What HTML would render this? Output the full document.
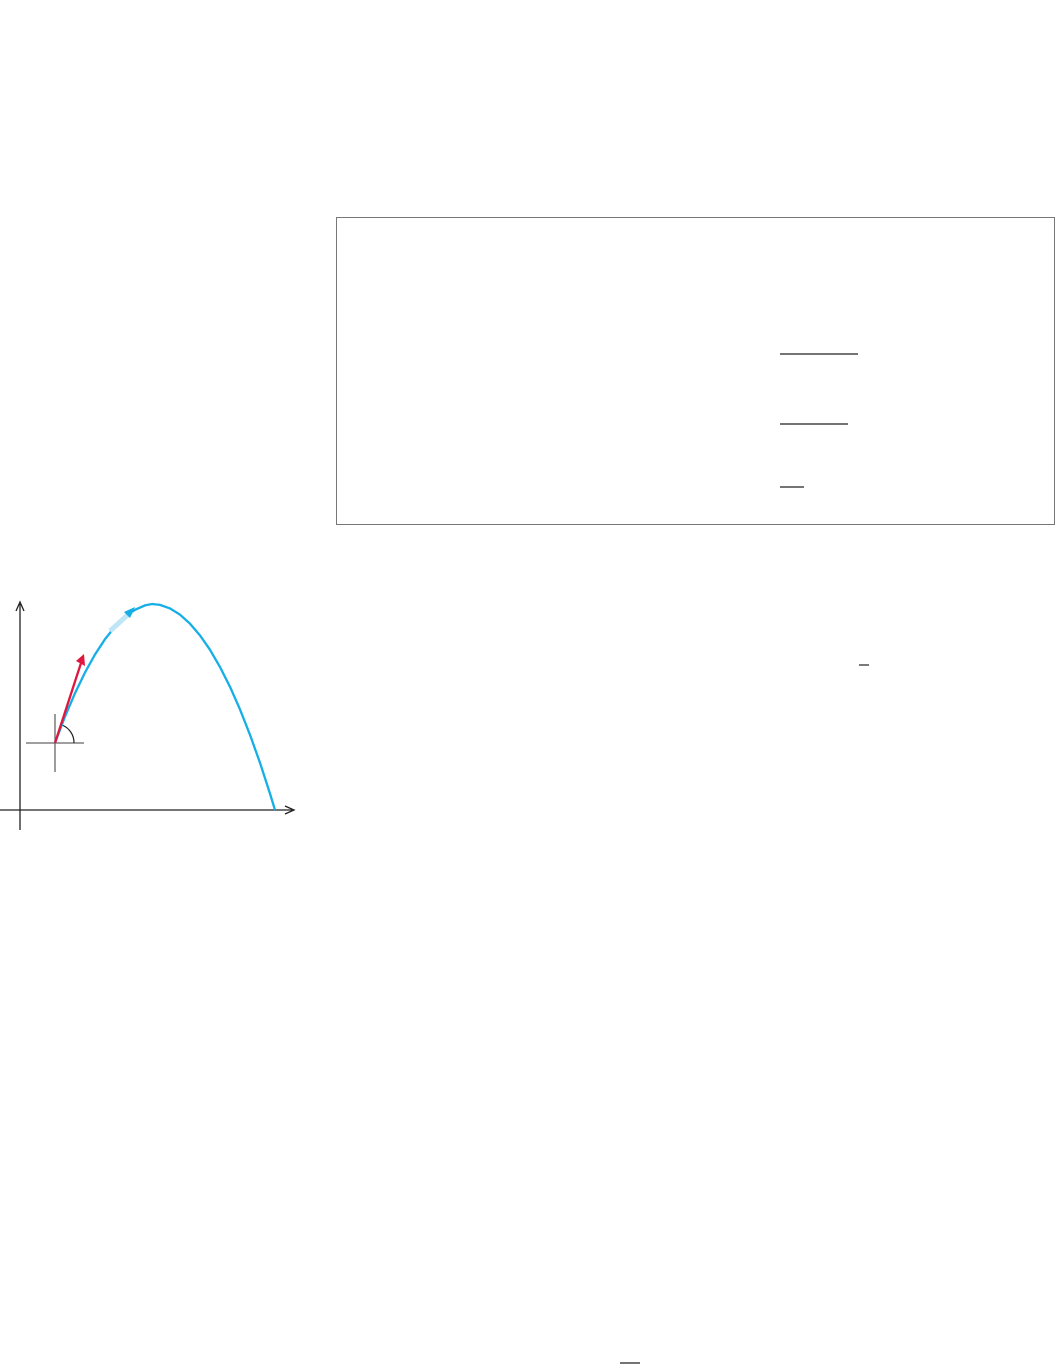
<!DOCTYPE html>
<html><head><meta charset="utf-8"><style>
html,body{margin:0;padding:0;background:#fff;}
body{width:1056px;height:1368px;position:relative;overflow:hidden;font-family:"Liberation Sans",sans-serif;}
</style></head><body>
<svg width="1056" height="1368" style="position:absolute;left:0;top:0">
  <rect x="336.5" y="217.5" width="718" height="307" fill="none" stroke="#777" stroke-width="1"/>
  <line x1="780" y1="354" x2="858" y2="354" stroke="#222" stroke-width="1.3"/>
  <line x1="780" y1="424" x2="848" y2="424" stroke="#222" stroke-width="1.3"/>
  <line x1="780" y1="487" x2="804" y2="487" stroke="#222" stroke-width="1.3"/>
  <line x1="859" y1="665" x2="869" y2="665" stroke="#222" stroke-width="1.2"/>
  <line x1="620" y1="1363" x2="640" y2="1363" stroke="#222" stroke-width="1.2"/>
  <g id="diagram">
    <line x1="20" y1="830" x2="20" y2="604" stroke="#222" stroke-width="1.3"/>
    <path d="M16,611 L20,602 L24,611" fill="none" stroke="#222" stroke-width="1.3"/>
    <line x1="0" y1="810" x2="292" y2="810" stroke="#222" stroke-width="1.3"/>
    <path d="M285,806 L294,810 L285,814" fill="none" stroke="#222" stroke-width="1.3"/>
    <line x1="26" y1="743" x2="84" y2="743" stroke="#666" stroke-width="1.3"/>
    <line x1="55" y1="714" x2="55" y2="772" stroke="#666" stroke-width="1.3"/>
    <path d="M62,725 A19,19 0 0 1 74,743" fill="none" stroke="#222" stroke-width="1.2"/>
    <path id="traj" fill="none" stroke="#16aee6" stroke-width="2.3"/>
    <path d="M110,631 L132,611" stroke="#bfe6f7" stroke-width="5"/>
    <path d="M124,612 L135,607 L130,618 Z" fill="#16aee6"/>
    <line x1="55" y1="743" x2="82" y2="660" stroke="#e0163f" stroke-width="2.3"/>
    <path d="M76,661 L84,654 L85,666 Z" fill="#e0163f"/>
  </g>
</svg>
<script>
const trajectoryX = [55,65,75,85,95,105,115,125,135,145,152,160,170,180,190,200,210,220,230,240,250,260,270,275];
const peakX = 152, peakY = 604, landX = 275, groundY = 810;
const a = (groundY - peakY) / Math.pow(landX - peakX, 2);
function yOf(x){ return peakY + a*(x-peakX)*(x-peakX) + (x<peakX ? (peakX-x)*0.11 : 0); }
let d = '';
trajectoryX.forEach((x,i)=>{ d += (i?'L':'M') + x + ',' + yOf(x).toFixed(1) + ' '; });
document.getElementById('traj').setAttribute('d', d);
</script>
</body></html>
